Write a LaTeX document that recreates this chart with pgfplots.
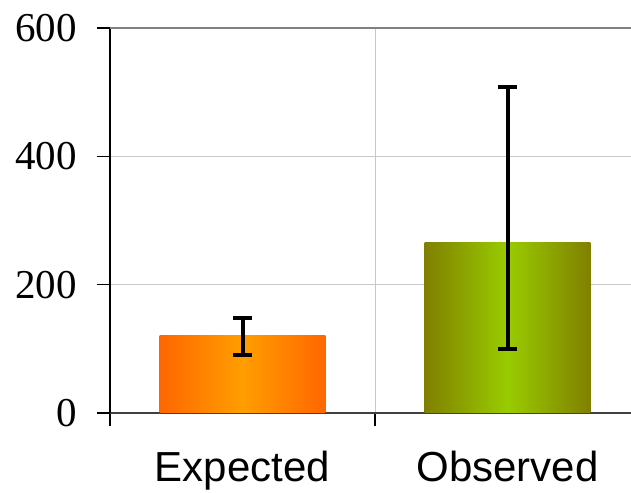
\documentclass[border=0pt]{standalone}
\usepackage{pgfplots}
\pgfplotsset{compat=1.18}
\usepackage{fontspec}
\setmainfont{Liberation Serif}
\newfontfamily\arialfont{Liberation Sans}
\usetikzlibrary{calc}

\definecolor{orEdge}{HTML}{FF6600}
\definecolor{orMid}{HTML}{FF9E00}
\definecolor{grEdge}{HTML}{808000}
\definecolor{grMid}{HTML}{99CC00}

\begin{document}
\begin{tikzpicture}
\begin{axis}[
    name=ax,
    scale only axis,
    width=521bp, height=385bp,
    xmin=-0.5, xmax=1.466,
    ymin=0, ymax=600,
    axis lines=left,
    axis line style={-, line width=1.5bp},
    x axis line style={black!75},
    ytick={0,200,400,600},
    xtick={-0.5,0.5,1.5},
    xticklabels={},
    extra x ticks={0,1},
    extra x tick labels={Expected,Observed},
    extra x tick style={
        major tick length=0pt, grid=none,
        xticklabel style={font=\arialfont\fontsize{42bp}{46bp}\selectfont, anchor=base, yshift=-69bp}
    },
    extra y ticks={600},
    extra y tick labels={},
    extra y tick style={major grid style={line width=2bp, black!50}},
    tick align=outside,
    major tick length=13bp,
    tick style={line width=1.5bp, black},
    yticklabel style={font=\fontsize{41bp}{45bp}\selectfont, anchor=east, inner sep=0pt, xshift=-20bp},
    /pgf/number format/assume math mode=true,
    grid=major,
    major grid style={line width=1bp, black!22},
]
\addplot[ybar, bar width=0.626, bar shift=0pt, draw=none,
    left color=orEdge, right color=orEdge, middle color=orMid,
    error bars/.cd, y dir=both, y explicit,
    error bar style={line width=4bp, black},
    error mark options={rotate=90, line width=4bp, mark size=9.5bp, black}]
  coordinates {(0,120) +- (0,28) -= (0,30)};
\addplot[ybar, bar width=0.626, bar shift=0pt, draw=none,
    left color=grEdge, right color=grEdge, middle color=grMid,
    error bars/.cd, y dir=both, y explicit,
    error bar style={line width=4bp, black},
    error mark options={rotate=90, line width=4bp, mark size=9.5bp, black}]
  coordinates {(1,265) += (0,243) -= (0,165)};
\end{axis}
\pgfresetboundingbox
\path[use as bounding box] ($(ax.south west)+(-110bp,-80bp)$) rectangle ($(ax.north east)+(0,28bp)$);
\end{tikzpicture}
\end{document}
